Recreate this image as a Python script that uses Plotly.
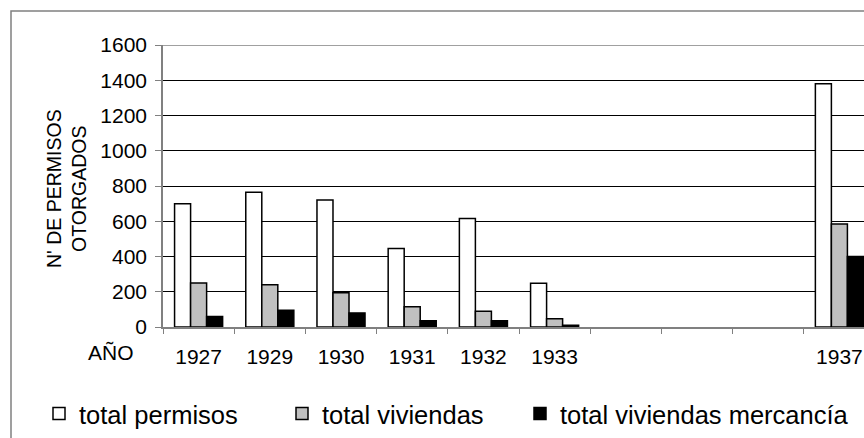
import plotly.graph_objects as go

categories = ["1927", "1929", "1930", "1931", "1932", "1933", "1934", "1935", "1936", "1937"]
tick_labels = ["1927", "1929", "1930", "1931", "1932", "1933", "", "", "", "1937"]
total_permisos = [700, 765, 720, 445, 615, 248, None, None, None, 1380]
total_viviendas = [250, 240, 195, 115, 90, 47, None, None, None, 585]
total_viv_mercancia = [60, 95, 80, 35, 35, 10, None, None, None, 400]

series_names = ["total permisos", "total viviendas", "total viviendas mercancía"]
series_colors = ["#FFFFFF", "#C0C0C0", "#000000"]
series_values = [total_permisos, total_viviendas, total_viv_mercancia]
legend_ids = ["legend", "legend2", "legend3"]

y_ticks = [0, 200, 400, 600, 800, 1000, 1200, 1400, 1600]

FONT = "Liberation Sans, Arial, sans-serif"

fig = go.Figure()
for name, color, vals, lg in zip(series_names, series_colors, series_values, legend_ids):
    fig.add_trace(go.Bar(
        x=categories, y=vals, name=name, legend=lg,
        marker=dict(color=color, line=dict(color="#000000", width=1.5)),
    ))

W, H = 864, 438
L, R, T, B = 163, 0, 45, 111
pw = W - L - R
ph = H - T - B

def px_x(p):
    return (p - L) / pw

def px_y(p):
    return (H - B - p) / ph

def legend_at(xs):
    return dict(
        orientation="h", x=px_x(xs), y=px_y(414), xanchor="left", yanchor="middle",
        font=dict(size=25.5, family=FONT), bgcolor="rgba(0,0,0,0)",
    )

fig.update_layout(
    width=W, height=H,
    margin=dict(l=L, r=R, t=T, b=B, pad=0),
    paper_bgcolor="white", plot_bgcolor="white",
    barmode="group", bargap=0.325, bargroupgap=0,
    font=dict(family=FONT, color="#000000", size=21),
    showlegend=True,
    legend=legend_at(57 - 18),
    legend2=legend_at(300 - 18),
    legend3=legend_at(538 - 18),
    xaxis=dict(
        type="category", categoryorder="array", categoryarray=categories,
        tickmode="array", tickvals=categories, ticktext=tick_labels,
        tickson="boundaries", ticks="outside", ticklen=5, tickcolor="#808080",
        showline=True, linecolor="#808080", linewidth=1.5,
        showgrid=False, range=[-0.5, -0.5 + pw / 71.2],
        tickfont=dict(size=21, family=FONT), ticklabelstandoff=10,
    ),
    yaxis=dict(
        range=[0, 1600], tickmode="array", tickvals=y_ticks,
        ticks="outside", ticklen=6, tickcolor="#808080",
        showline=True, linecolor="#808080", linewidth=1.5,
        showgrid=True, gridcolor="#000000", gridwidth=1,
        zeroline=False, tickfont=dict(size=21, family=FONT), ticklabelstandoff=4,
    ),
    shapes=[
        dict(type="line", xref="paper", yref="y", x0=0, x1=1, y0=1600, y1=1600,
             line=dict(color="#808080", width=1.5), layer="above"),
        dict(type="rect", xref="paper", yref="paper",
             x0=px_x(11), x1=1.2, y0=px_y(11), y1=-1.0,
             line=dict(color="#808080", width=1.5), layer="below"),
    ],
    annotations=[
        dict(text="N' DE PERMISOS<br>OTORGADOS", textangle=-90, xref="paper", yref="paper",
             x=px_x(66), y=px_y(189), xanchor="center", yanchor="middle", showarrow=False,
             font=dict(size=19.5, family=FONT)),
        dict(text="AÑO", xref="paper", yref="paper", x=px_x(111), y=px_y(352),
             xanchor="center", yanchor="middle", showarrow=False,
             font=dict(size=21, family=FONT)),
    ],
)

fig.write_html(
    "out.html",
    config={"displayModeBar": False},
    post_script=(
        "document.body.style.margin='0';"
        "document.body.style.overflow='hidden';"
        "document.documentElement.style.overflow='hidden';"
    ),
)
